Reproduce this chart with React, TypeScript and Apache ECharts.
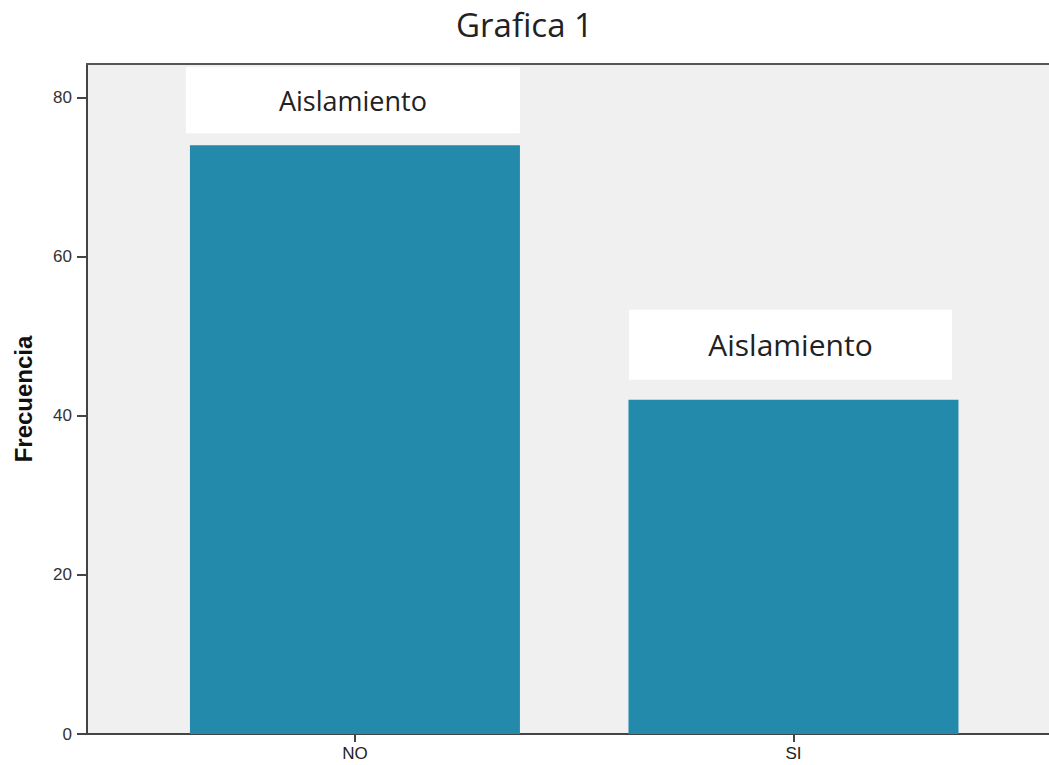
import React, { useEffect, useRef } from "react";
import * as echarts from "echarts";

// Frequency of "Aislamiento" answers per category
const categories = ["NO", "SI"];
const frequencies = [74, 42];
const barLabels = ["Aislamiento", "Aislamiento"];
const yTicks = [0, 20, 40, 60, 80];
const chartTitle = "Grafica 1";
const yAxisName = "Frecuencia";

const axisColor = "#444";
const barColor = "#248AAB";
const labelFont = "'Open Sans', 'Noto Sans', sans-serif";
const axisFont = "'Liberation Sans', Arial, sans-serif";

const xMin = -0.611;
const xMax = 1.5827;

// Per-bar styling of the white label boxes
const labelBoxes = [
  { width: 334, height: 66, fontSize: 27, distance: 12, offset: [-2, 0] },
  { width: 323, height: 70, fontSize: 30, distance: 20, offset: [-3, 0] },
];

export default function App() {
  const ref = useRef<HTMLDivElement>(null);

  useEffect(() => {
    if (!ref.current) return;
    const chart = echarts.init(ref.current, null, { renderer: "svg" });
    const categoryIndices = categories.map((_, i) => i);

    chart.setOption({
      animation: false,
      backgroundColor: "#ffffff",
      title: {
        text: chartTitle,
        left: "center",
        top: 3,
        textStyle: {
          fontFamily: labelFont,
          fontSize: 33,
          fontWeight: "normal",
          color: "#222",
        },
      },
      grid: {
        left: 87,
        right: 0,
        top: 64,
        bottom: 31,
        show: true,
        backgroundColor: "#F0F0F0",
        borderWidth: 0,
      },
      xAxis: [
        {
          type: "value",
          min: xMin,
          max: xMax,
          axisLine: { show: true, onZero: false, lineStyle: { color: axisColor, width: 2 } },
          axisTick: {
            show: true,
            customValues: categoryIndices,
            length: 8,
            lineStyle: { color: axisColor, width: 2 },
          },
          axisLabel: {
            customValues: categoryIndices,
            formatter: (v: number) => categories[Math.round(v)] ?? "",
            fontFamily: axisFont,
            fontSize: 17,
            color: "#222",
            margin: 11,
          },
          splitLine: { show: false },
        },
        // top frame line of the plot area
        {
          type: "value",
          position: "top",
          min: xMin,
          max: xMax,
          axisLine: { show: true, onZero: false, lineStyle: { color: "#555", width: 2 } },
          axisTick: { show: false },
          axisLabel: { show: false },
          splitLine: { show: false },
        },
      ],
      yAxis: {
        type: "value",
        min: 0,
        max: 84.2,
        name: yAxisName,
        nameLocation: "middle",
        nameRotate: 90,
        nameGap: 52,
        nameTextStyle: {
          fontFamily: axisFont,
          fontSize: 24,
          fontWeight: "bold",
          color: "#111",
        },
        axisLine: { show: true, onZero: false, lineStyle: { color: axisColor, width: 2 } },
        axisTick: {
          show: true,
          customValues: yTicks,
          length: 10,
          lineStyle: { color: axisColor, width: 2 },
        },
        axisLabel: {
          customValues: yTicks,
          fontFamily: axisFont,
          fontSize: 17,
          color: "#333",
          margin: 15,
        },
        splitLine: { show: false },
      },
      series: [
        {
          type: "bar",
          xAxisIndex: 0,
          barWidth: 330,
          itemStyle: { color: barColor },
          data: frequencies.map((v, i) => {
            const box = labelBoxes[i];
            return {
              value: [i, v],
              label: {
                show: true,
                position: "top",
                distance: box.distance,
                offset: box.offset,
                formatter: barLabels[i],
                backgroundColor: "#ffffff",
                width: box.width,
                height: box.height,
                lineHeight: box.height,
                align: "center",
                padding: 0,
                fontFamily: labelFont,
                fontSize: box.fontSize,
                color: "#222",
              },
            };
          }),
        },
      ],
    });

    return () => chart.dispose();
  }, []);

  return (
    <div
      ref={ref}
      style={{ position: "absolute", left: 0, top: 0, width: 1049, height: 765 }}
    />
  );
}
